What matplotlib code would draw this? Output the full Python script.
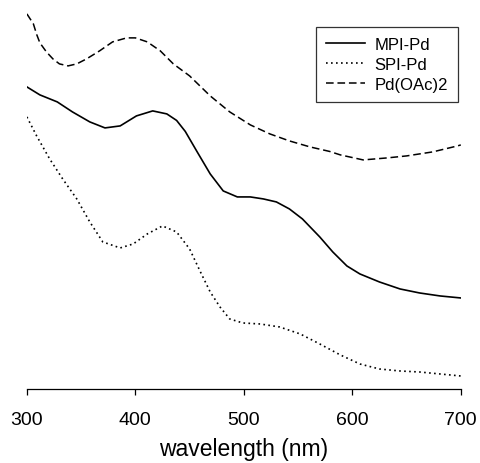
import matplotlib
matplotlib.use('Agg')
import matplotlib.pyplot as plt

plt.rcParams['font.family'] = ['Liberation Sans', 'DejaVu Sans']

# 光谱数据 (任意吸光度单位)
wl_mpi = [300, 312, 328, 342, 358, 372, 386, 401, 416, 429, 438, 446, 457, 469,
          481, 494, 506, 518, 530, 542, 554, 570, 582, 595, 607, 625, 644, 662,
          681, 700]
abs_mpi = [1.208, 1.176, 1.148, 1.108, 1.068, 1.044, 1.052, 1.092, 1.112, 1.100,
           1.074, 1.030, 0.948, 0.860, 0.792, 0.768, 0.768, 0.760, 0.748, 0.720,
           0.680, 0.608, 0.548, 0.492, 0.460, 0.428, 0.400, 0.384, 0.372, 0.364]

wl_spi = [300, 309, 321, 333, 346, 358, 370, 386, 398, 411, 425, 438, 450, 460,
          469, 478, 487, 499, 515, 533, 552, 570, 589, 607, 625, 644, 662, 681, 700]
abs_spi = [1.088, 1.012, 0.920, 0.840, 0.760, 0.668, 0.588, 0.564, 0.580, 0.620,
           0.652, 0.628, 0.560, 0.468, 0.388, 0.328, 0.280, 0.264, 0.260, 0.248,
           0.220, 0.180, 0.136, 0.100, 0.080, 0.072, 0.068, 0.060, 0.052]

wl_pd = [300, 306, 309, 312, 318, 324, 330, 338, 346, 355, 367, 379, 392, 400,
         411, 423, 435, 450, 469, 487, 506, 524, 542, 561, 579, 589, 610, 632,
         650, 674, 697, 700]
abs_pd = [1.500, 1.460, 1.418, 1.384, 1.348, 1.320, 1.300, 1.292, 1.300, 1.320,
          1.352, 1.388, 1.404, 1.404, 1.388, 1.352, 1.300, 1.252, 1.172, 1.108,
          1.056, 1.020, 0.992, 0.968, 0.950, 0.936, 0.916, 0.924, 0.932, 0.948,
          0.972, 0.976]

x_ticks = [300, 400, 500, 600, 700]

fig = plt.figure(figsize=(4.8, 4.64), dpi=100)
ax = fig.add_axes([0.056, 0.1595, 0.904, 0.83])

ax.plot(wl_mpi, abs_mpi, color='black', lw=1.2, ls='-', label='MPI-Pd')
ax.plot(wl_spi, abs_spi, color='black', lw=1.2, ls=(0, (1, 2)), label='SPI-Pd')
ax.plot(wl_pd, abs_pd, color='black', lw=1.1, ls=(0, (5, 2.5)), label='Pd(OAc)2')

ax.set_xlim(300, 700)
ax.set_ylim(0.0, 1.54)
ax.set_xticks(x_ticks)
ax.set_yticks([])
for s in ['left', 'right', 'top']:
    ax.spines[s].set_visible(False)
ax.spines['bottom'].set_linewidth(0.9)
ax.tick_params(axis='x', direction='out', length=4, width=0.9, labelsize=14, pad=12)
ax.set_xlabel('wavelength (nm)', fontsize=16.5, labelpad=6)

leg = ax.legend(loc='upper right', bbox_to_anchor=(0.993, 0.94), fontsize=12,
                frameon=True, fancybox=False, edgecolor='black', handlelength=2.35,
                handletextpad=0.55, borderpad=0.6, labelspacing=0.3,
                borderaxespad=0)
leg.get_frame().set_linewidth(0.9)

fig.savefig('out.png', dpi=100)
